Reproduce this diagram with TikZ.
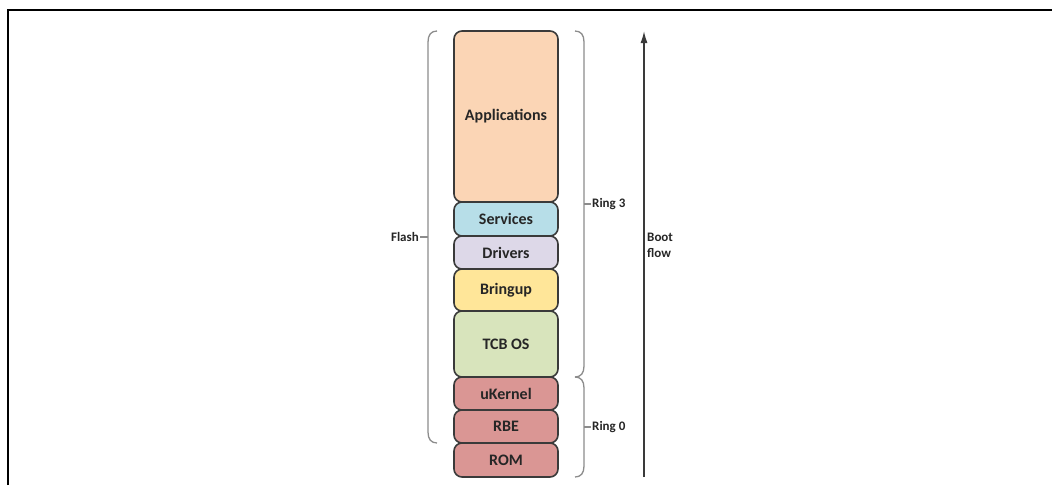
\documentclass[tikz,border=0pt]{standalone}
\usepackage{fontspec}
\setmainfont{Carlito}
\usetikzlibrary{positioning,arrows.meta}

\definecolor{appcol}{HTML}{FBD5B5}
\definecolor{svccol}{HTML}{B7DEE8}
\definecolor{drvcol}{HTML}{DDD8E8}
\definecolor{bupcol}{HTML}{FFE699}
\definecolor{tcbcol}{HTML}{D8E4BC}
\definecolor{romcol}{HTML}{DA9694}
\definecolor{edgecol}{HTML}{3A3A3A}
\definecolor{bracecol}{HTML}{8C8C8C}

\tikzset{
  layer/.style={draw=edgecol, line width=1.6pt, rounded corners=8pt, outer sep=0pt,
    minimum width=104pt, inner sep=0pt, text=black!85,
    font=\bfseries\fontsize{16}{18}\selectfont},
  brace/.style={draw=bracecol, line width=1.3pt},
  side/.style={inner sep=1pt, text=black!85, font=\bfseries\fontsize{13}{16}\selectfont}
}

\begin{document}
\begin{tikzpicture}[x=1pt, y=-1pt, >={Latex[length=12pt,width=7pt]}]
	\useasboundingbox (0,0) rectangle (1052,485);
%	frame
	\draw [line width=2pt] (8,485) -- (8,10) -- (1052,10);
%	stack
	\node [layer, fill=appcol, minimum height=171pt, anchor=north] (app) at (506,31) {Applications};
	\node [layer, fill=svccol, minimum height=34pt, below=0pt of app] (svc) {Services};
	\node [layer, fill=drvcol, minimum height=33pt, below=0pt of svc] (drv) {Drivers};
	\node [layer, fill=bupcol, minimum height=42pt, below=0pt of drv] (bup) {Bringup};
	\node [layer, fill=tcbcol, minimum height=66pt, below=0pt of bup] (tcb) {TCB OS};
	\node [layer, fill=romcol, minimum height=33pt, below=0pt of tcb] (ukern) {uKernel};
	\node [layer, fill=romcol, minimum height=33pt, below=0pt of ukern] (rbe) {RBE};
	\node [layer, fill=romcol, minimum height=34pt, below=0pt of rbe] (rom) {ROM};
%	braces
	\coordinate (flashtip) at (428,237);
	\coordinate (ring3tip) at (584,204);
	\coordinate (ring0tip) at (584,427);
	\draw [brace] (437,31) .. controls (431,31) and (428,35) .. (428,42) -- (428,432)
		.. controls (428,439) and (431,443) .. (437,443);
	\draw [brace] (575,31) .. controls (581,31) and (584,35) .. (584,42) -- (584,366)
		.. controls (584,373) and (581,377) .. (575,377);
	\draw [brace] (575,377) .. controls (581,377) and (584,381) .. (584,388) -- (584,466)
		.. controls (584,473) and (581,477) .. (575,477);
	\node [side, anchor=east] (flash) at (420,237) {Flash};
	\node [side, anchor=west] (ring3) at (591,204) {Ring 3};
	\node [side, anchor=west] (ring0) at (591,427) {Ring 0};
	\draw [brace] (flashtip) -- (flash.east);
	\draw [brace] (ring3tip) -- (ring3.west);
	\draw [brace] (ring0tip) -- (ring0.west);
%	boot flow
	\coordinate (bootlow) at (644,477);
	\coordinate (boothigh) at (644,31);
	\draw [->, draw=edgecol, line width=1.5pt] (bootlow) -- (boothigh);
	\node [side, anchor=west, align=left] (boot) at (646,245) {Boot\\flow};
\end{tikzpicture}
\end{document}
